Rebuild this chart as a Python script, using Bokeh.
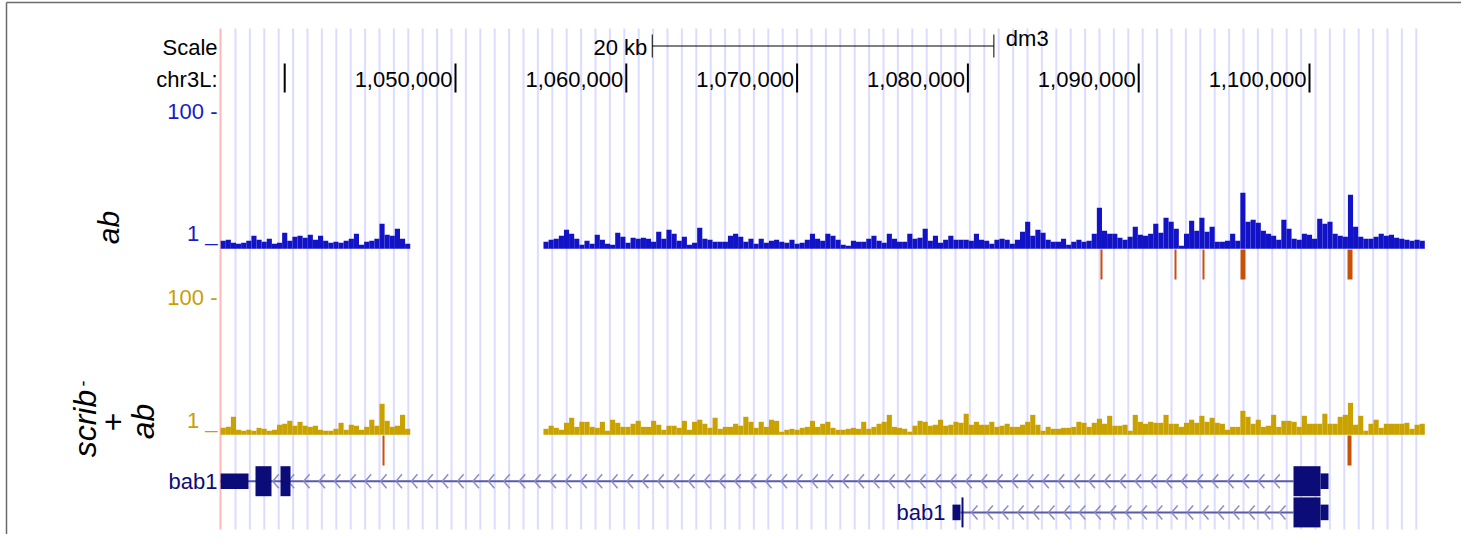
import numpy as np
from bokeh.plotting import figure
from bokeh.models import Range1d
from bokeh.core.properties import value
from bokeh.embed import file_html
from bokeh.resources import INLINE

# ------------------------------------------------------------------ data
CHROM_LABEL = "chr3L:"
ASSEMBLY = "dm3"
VIEW_START, VIEW_END = 1_036_241, 1_106_792
POS_TICKS = [1_040_000, 1_050_000, 1_060_000, 1_070_000, 1_080_000, 1_090_000, 1_100_000]
POS_LABELS = ["", "1,050,000", "1,060,000", "1,070,000", "1,080,000", "1,090,000", "1,100,000"]
SCALE_BAR = (1_061_520, 1_081_520)
SCALE_LABEL = "20 kb"

BIN_START = 1_036_250
BIN_SIZE = 300

# ab signal (bins of 300 bp); two covered segments
AB_SEG1_BIN = 0
ab_seg1 = [6.7, 7.5, 5.3, 4.6, 5.3, 6.7, 10.3, 7.5, 6.0, 8.2, 4.6, 5.3, 12.5, 6.7, 9.6,
           10.3, 8.9, 11.0, 7.5, 10.3, 6.7, 5.3, 6.0, 5.3, 6.7, 8.2, 11.8, 3.9, 6.0, 6.7,
           8.2, 18.9, 11.0, 10.3, 15.3, 8.2, 4.6]
AB_SEG2_BIN = 63
ab_seg2 = [6.0, 7.5, 8.2, 10.3, 14.6, 11.8, 8.2, 3.9, 6.7, 4.6, 11.0, 7.5, 4.6, 3.9, 12.5,
           9.6, 5.3, 8.9, 8.2, 8.9, 8.2, 6.0, 13.2, 8.2, 14.6, 11.8, 6.7, 9.6, 3.9, 5.3,
           16.1, 8.2, 7.5, 6.0, 6.0, 6.0, 10.3, 11.8, 9.6, 6.0, 8.2, 4.6, 8.2, 5.3, 6.7,
           7.5, 6.0, 5.3, 7.5, 4.6,
           5.3, 7.5, 11.8, 8.2, 6.7, 11.8, 10.3, 7.5, 3.9, 3.2, 6.7, 6.0, 6.0, 8.2, 10.3,
           6.7, 5.3, 11.8, 8.2, 6.0, 6.0, 11.8, 8.2, 8.9, 15.3, 6.7, 10.3, 5.3, 7.5, 10.3,
           7.5, 7.5, 7.5, 6.7, 11.8, 7.5, 6.7, 4.6, 7.5, 8.2, 7.5, 4.6, 7.5, 13.2, 20.4,
           10.3, 14.6, 12.5, 7.5, 6.0, 6.0, 8.2,
           3.9, 6.0, 7.5, 6.0, 6.7, 11.8, 30.4, 13.9, 11.8, 11.8, 8.9, 7.5, 9.6, 16.8, 11.0,
           10.3, 11.8, 18.9, 12.5, 23.2, 20.4, 15.3, 3.2, 11.8, 21.1, 13.9, 23.2, 13.2, 16.8, 6.0,
           6.0, 6.7, 11.8, 6.7, 41.2, 20.4, 21.8, 19.6, 13.9, 11.8, 10.3, 7.5, 21.8, 15.3, 8.2,
           7.5, 11.8, 11.0, 8.2, 22.5, 18.9, 20.4, 11.8, 10.3, 9.6, 39.7, 16.8, 9.6, 8.2, 8.2,
           9.6, 11.8, 10.3, 11.0, 8.9, 8.2, 7.5, 6.7, 7.5, 6.7]

# scrib- + ab signal
SC_SEG1_BIN = 0
scrib_seg1 = [6.0, 6.7, 13.9, 4.6, 3.9, 4.6, 3.9, 6.0, 5.3, 3.9, 4.6, 8.2, 8.9, 11.0, 7.5,
              10.3, 7.5, 6.7, 7.5, 4.6, 3.9, 3.9, 5.3, 9.6, 4.6, 8.2, 7.5, 4.6, 6.7, 11.8,
              7.5, 23.2, 11.0, 6.7, 7.5, 15.3, 5.3]
SC_SEG2_BIN = 63
scrib_seg2 = [5.3, 7.5, 6.0, 4.6, 9.6, 13.2, 6.7, 10.3, 10.3, 6.7, 6.0, 10.3, 3.9, 11.8, 9.6,
              6.7, 6.7, 8.9, 11.0, 6.7, 6.7, 11.0, 8.2, 4.6, 7.5, 7.5, 6.0, 11.0, 4.6, 10.3,
              11.8, 8.9, 6.0, 13.2, 5.3, 6.7, 6.7, 8.9, 7.5, 13.9, 10.3, 6.0, 10.3, 6.7, 11.8,
              11.0, 3.2, 4.6, 5.3, 4.6,
              6.0, 6.7, 11.0, 6.7, 8.9, 10.3, 6.0, 4.6, 4.6, 5.3, 6.0, 5.3, 10.3, 5.3, 6.7,
              8.9, 10.3, 15.3, 6.7, 6.0, 5.3, 3.2, 7.5, 11.0, 10.3, 7.5, 8.2, 11.8, 7.5, 8.2,
              10.3, 9.6, 16.1, 8.2, 10.3, 8.2, 8.2, 10.3, 6.7, 7.5, 8.9, 6.7, 6.7, 8.2, 10.3,
              15.3, 8.2, 3.9, 6.7, 5.3, 5.3, 6.0,
              6.0, 6.7, 10.3, 9.6, 6.7, 9.6, 12.5, 8.9, 14.6, 7.5, 7.5, 8.2, 3.9, 15.3, 10.3,
              8.9, 10.3, 9.6, 9.6, 15.3, 8.9, 8.9, 6.7, 9.6, 11.8, 9.6, 14.6, 10.3, 13.2, 9.6,
              8.9, 4.6, 6.7, 6.7, 18.2, 13.9, 8.9, 11.8, 6.7, 7.5, 15.3, 6.7, 11.0, 11.0, 10.3,
              6.7, 14.6, 8.9, 8.9, 8.9, 16.1, 8.9, 8.9, 13.9, 15.3, 23.9, 8.2, 14.6, 3.9, 8.9,
              11.8, 6.0, 8.9, 8.9, 8.9, 8.9, 9.6, 5.3, 8.2, 8.9]

# peak calls
ab_peak_start = [1_087_763, 1_092_096, 1_093_735, 1_095_960, 1_102_225]
ab_peak_end = [1_087_880, 1_092_213, 1_093_852, 1_096_253, 1_102_518]
scrib_peak_start = [1_045_726, 1_102_225]
scrib_peak_end = [1_045_843, 1_102_459]

# bab1 transcripts (minus strand)
GENE_NAME = "bab1"
tx1_span = (1_036_250, 1_099_063)
tx1_thin = [(1_036_250, 1_037_881), (1_100_644, 1_101_112)]
tx1_thick = [(1_038_290, 1_039_227), (1_039_754, 1_040_340), (1_099_063, 1_100_644)]
tx2_span = (1_079_567, 1_099_063)
tx2_thin = [(1_079_098, 1_079_567), (1_100_644, 1_101_112)]
tx2_thick = [(1_079_625, 1_079_742), (1_099_063, 1_100_644)]

# ------------------------------------------------------------------ layout (pixels)
W, H = 1461, 534
PX_PER_KB = 17.08
BP_PER_PX = 1000.0 / PX_PER_KB
X0 = 1_050_000 - 455 * BP_PER_PX
X1 = X0 + W * BP_PER_PX


def gx(px):
    return X0 + px * BP_PER_PX


FONT = value("Liberation Sans")
LABEL_RIGHT = gx(217)

p = figure(width=W, height=H, x_range=Range1d(X0, X1), y_range=Range1d(H, 0),
           output_backend="svg", toolbar_location=None, min_border=0,
           x_axis_location=None, y_axis_location=None)
p.outline_line_color = None
p.xgrid.visible = False
p.ygrid.visible = False
p.background_fill_color = "white"
p.border_fill_color = "white"

# track value ranges: value 1 at baseline, 100 at top line
AB_BASE, AB_TOP = 248.3, 110.0
SC_BASE, SC_TOP = 434.3, 296.0


def track_range(base, top):
    k = 99.0 / (base - top)
    return Range1d(1 + k * (base - H), 1 + k * base)


p.extra_y_ranges = {"ab": track_range(AB_BASE, AB_TOP), "scrib": track_range(SC_BASE, SC_TOP)}

# outer frame
p.segment(x0=[gx(6)], y0=[2], x1=[X1], y1=[2], line_color="#6a6a6a", line_width=1.5)
p.segment(x0=[gx(6)], y0=[2], x1=[gx(6)], y1=[H], line_color="#6a6a6a", line_width=1.5)

# guide lines
GUIDE_START = gx(235)
GUIDE_STEP = 14.40 * BP_PER_PX
guides = [GUIDE_START + i * GUIDE_STEP for i in range(83)]
p.segment(x0=guides, y0=28, x1=guides, y1=529, line_color="#dcdcff", line_width=2)
p.segment(x0=[VIEW_START], y0=[28], x1=[VIEW_START], y1=[529], line_color="#ffb8b8", line_width=2)

TXT = dict(text_font=FONT, text_font_size="22px", text_baseline="alphabetic")

# header
p.text(x=[LABEL_RIGHT, LABEL_RIGHT], y=[46.5, 79], text=["Scale", CHROM_LABEL],
       text_align="right", text_color="black", **TXT)
p.text(x=[SCALE_BAR[0] - 5 * BP_PER_PX], y=[46.5], text=[SCALE_LABEL],
       text_align="right", text_color="black", **TXT)
p.text(x=[SCALE_BAR[1] + 12 * BP_PER_PX], y=[38], text=[ASSEMBLY],
       text_align="left", text_color="black", **TXT)
p.segment(x0=[SCALE_BAR[0]], y0=[45.5], x1=[SCALE_BAR[1]], y1=[45.5], line_color="black", line_width=1)
p.segment(x0=list(SCALE_BAR), y0=34, x1=list(SCALE_BAR), y1=57, line_color="black", line_width=1)

p.segment(x0=POS_TICKS, y0=63, x1=POS_TICKS, y1=92, line_color="black", line_width=2)
lab_x = [t - 3 * BP_PER_PX for t, l in zip(POS_TICKS, POS_LABELS) if l]
lab_t = [l for l in POS_LABELS if l]
p.text(x=lab_x, y=[79] * len(lab_t), text=lab_t, text_align="right", text_color="black", **TXT)

# track labels
AB_COLOR, AB_TEXT = "#1212c6", "#1a1ac8"
SC_COLOR, SC_TEXT = "#c9a200", "#c8a000"
p.text(x=[LABEL_RIGHT, LABEL_RIGHT], y=[111, 233], text=["100 -", "1 _"],
       text_align="right", text_color=AB_TEXT, **TXT)
p.text(x=[LABEL_RIGHT, LABEL_RIGHT], y=[297, 420], text=["100 -", "1 _"],
       text_align="right", text_color=SC_TEXT, **TXT)

p.text(x=[gx(108)], y=[227], text=["ab"], angle=np.pi / 2, text_font=FONT, text_font_size="30px",
       text_font_style="italic", text_align="center", text_baseline="middle", text_color="black")
p.text(x=[gx(84), gx(112), gx(142)], y=[423, 422, 421], text=["scrib", "+", "ab"], angle=np.pi / 2,
       text_font=FONT, text_font_size="32px", text_font_style="italic", text_align="center",
       text_baseline="middle", text_color="black")
p.text(x=[gx(82)], y=[383], text=["-"], angle=np.pi / 2, text_font=FONT, text_font_size="18px",
       text_align="center", text_baseline="middle", text_color="black")


# signal bars
def bars(seg, start_bin, rng, color):
    lefts = [BIN_START + (start_bin + i) * BIN_SIZE for i in range(len(seg))]
    rights = [l + BIN_SIZE for l in lefts]
    p.quad(left=lefts, right=rights, bottom=1, top=seg, y_range_name=rng,
           fill_color=color, line_color=None)


bars(ab_seg1, AB_SEG1_BIN, "ab", AB_COLOR)
bars(ab_seg2, AB_SEG2_BIN, "ab", AB_COLOR)
bars(scrib_seg1, SC_SEG1_BIN, "scrib", SC_COLOR)
bars(scrib_seg2, SC_SEG2_BIN, "scrib", SC_COLOR)

PEAK_COLOR = "#c85008"
p.quad(left=ab_peak_start, right=ab_peak_end, top=249, bottom=279, fill_color=PEAK_COLOR, line_color=None)
p.quad(left=scrib_peak_start, right=scrib_peak_end, top=435, bottom=465, fill_color=PEAK_COLOR, line_color=None)

# gene models
GENE_COLOR = "#0c0c78"
INTRON_COLOR = "#5a5aa6"
CHEV_COLOR = "#8c8cc8"
CHEV_STEP = 15.4 * BP_PER_PX
CHEV_W = 6 * BP_PER_PX


def transcript(yc, span, thin, thick, first_tip):
    p.segment(x0=[span[0]], y0=[yc], x1=[span[1]], y1=[yc], line_color=INTRON_COLOR, line_width=2)
    tips = []
    t = first_tip
    while t > span[0] + 2 * BP_PER_PX:
        tips.append(t)
        t -= CHEV_STEP
    ends = [t + CHEV_W for t in tips]
    p.segment(x0=tips, y0=yc, x1=ends, y1=yc - 7, line_color=CHEV_COLOR, line_width=1.5)
    p.segment(x0=tips, y0=yc, x1=ends, y1=yc + 7, line_color=CHEV_COLOR, line_width=1.5)
    p.quad(left=[a for a, b in thin], right=[b for a, b in thin], top=yc - 7.8, bottom=yc + 7.8,
           fill_color=GENE_COLOR, line_color=None)
    p.quad(left=[a for a, b in thick], right=[b for a, b in thick], top=yc - 15, bottom=yc + 15,
           fill_color=GENE_COLOR, line_color=None)


transcript(480.7, (VIEW_START, tx1_span[1]), tx1_thin, tx1_thick, gx(1273.3))
transcript(511.9, tx2_span, tx2_thin, tx2_thick, gx(1279))
p.text(x=[LABEL_RIGHT, tx2_thin[0][0] - 7 * BP_PER_PX], y=[481, 512], text=[GENE_NAME, GENE_NAME],
       text_align="right", text_color=GENE_COLOR, **TXT)

open("out.html", "w").write(file_html(p, INLINE))
